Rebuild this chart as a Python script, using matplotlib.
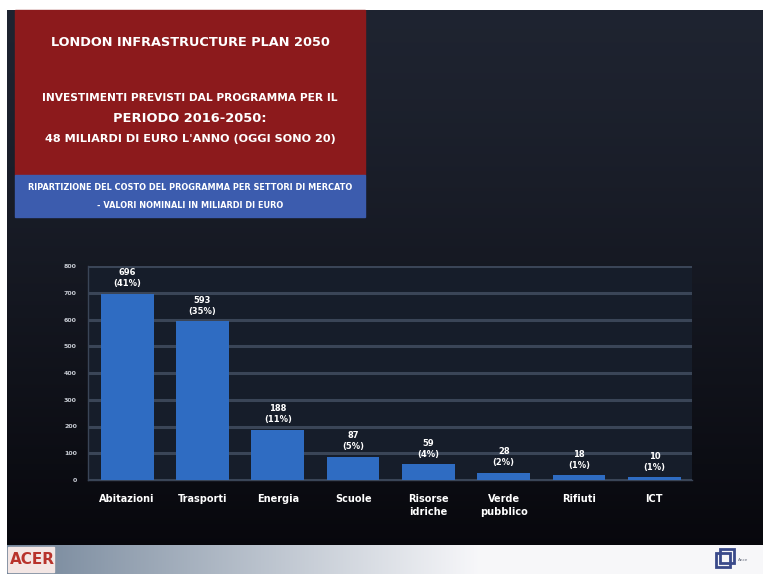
import numpy as np
import matplotlib.pyplot as plt
from matplotlib.patches import Rectangle

# Dati del grafico
settori = ['Abitazioni', 'Trasporti', 'Energia', 'Scuole', 'Risorse\nidriche',
           'Verde\npubblico', 'Rifiuti', 'ICT']
valori = [696, 593, 188, 87, 59, 28, 18, 10]
percentuali = ['41%', '35%', '11%', '5%', '4%', '2%', '1%', '1%']
yticks = [0, 100, 200, 300, 400, 500, 600, 700, 800]

W, H = 763, 574
fig = plt.figure(figsize=(W / 100, H / 100), dpi=100)
fig.patch.set_facecolor('white')

# Sfondo della slide (gradiente scuro)
bg = fig.add_axes([0, 0, 1, 1])
bg.set_xlim(0, W)
bg.set_ylim(H, 0)
bg.axis('off')
grad = np.linspace(0, 1, 256).reshape(-1, 1) ** 1.3
top = np.array([0.12, 0.14, 0.19])
bot = np.array([0.03, 0.03, 0.05])
img = top + (bot - top) * grad[..., None]
bg.imshow(img, extent=[7, W, 545, 10], aspect='auto', zorder=0)

# Piede della slide
foot = np.linspace(0, 1, 256).reshape(1, -1)
c1 = np.array([0.45, 0.52, 0.60])
c2 = np.array([0.97, 0.97, 0.98])
fimg = c1 + (c2 - c1) * np.clip(foot * 1.6, 0, 1)[..., None]
bg.imshow(fimg, extent=[7, W, 574, 545], aspect='auto', zorder=0)
bg.add_patch(Rectangle((8, 547), 46, 25, color='#f3e6e4', zorder=1))
bg.text(10, 560, 'ACER', color='#b8332c', fontsize=11, fontweight='bold',
        va='center', ha='left', family='Liberation Sans Narrow', zorder=2)
bg.add_patch(Rectangle((716, 553), 14, 14, fill=False, ec='#3a4a8a', lw=2, zorder=2))
bg.add_patch(Rectangle((720, 549), 14, 14, fill=False, ec='#3a4a8a', lw=2, zorder=2))
bg.text(738, 560, 'Ance', color='#6a7080', fontsize=3, va='center', zorder=2)

# Riquadri del titolo
bg.add_patch(Rectangle((15, 10), 350, 165, color='#8c1a1c', zorder=1))
bg.add_patch(Rectangle((15, 175), 350, 42, color='#3c5cae', zorder=1))
bg.text(190, 42, 'LONDON INFRASTRUCTURE PLAN 2050', color='white', fontsize=9.3,
        fontweight='bold', ha='center', va='center', zorder=2)
bg.text(190, 98, 'INVESTIMENTI PREVISTI DAL PROGRAMMA PER IL', color='white',
        fontsize=7.7, fontweight='bold', ha='center', va='center', zorder=2)
bg.text(190, 118, 'PERIODO 2016-2050:', color='white',
        fontsize=9.4, fontweight='bold', ha='center', va='center', zorder=2)
bg.text(190, 139, "48 MILIARDI DI EURO L'ANNO (OGGI SONO 20)", color='white',
        fontsize=8.1, fontweight='bold', ha='center', va='center', zorder=2)
bg.text(190, 188, 'RIPARTIZIONE DEL COSTO DEL PROGRAMMA PER SETTORI DI MERCATO',
        color='white', fontsize=5.9, fontweight='bold', ha='center', va='center', zorder=2)
bg.text(190, 205, '- VALORI NOMINALI IN MILIARDI DI EURO',
        color='white', fontsize=5.9, fontweight='bold', ha='center', va='center', zorder=2)

# Grafico a barre
ax = fig.add_axes([88 / W, 1 - 480 / H, (692 - 88) / W, (480 - 266) / H])
ax.set_facecolor('#161d2a')
x = np.arange(len(settori))
ax.bar(x, valori, width=0.7, color='#2f6cc2', zorder=3)
ax.set_xlim(-0.52, 7.5)
ax.set_ylim(0, 800)
ax.set_yticks(yticks)
ax.set_yticklabels([str(t) for t in yticks], fontsize=4.5, color='#c8ccd4',
                   fontweight='bold')
ax.yaxis.grid(True, color='#3a4557', lw=2.2, zorder=0)
ax.set_xticks(x)
ax.set_xticklabels(settori, fontsize=7, color='white', fontweight='bold',
                   linespacing=1.4)
ax.tick_params(axis='x', length=0, pad=10)
ax.tick_params(axis='y', length=0, pad=8)
for s in ['top', 'right']:
    ax.spines[s].set_visible(False)
for s in ['left', 'bottom']:
    ax.spines[s].set_color('#3a4557')
    ax.spines[s].set_linewidth(1)

for xi, v, p in zip(x, valori, percentuali):
    ax.annotate(f'{v}\n({p})', (xi, v), xytext=(0, 4), textcoords='offset points',
                ha='center', va='bottom', fontsize=6, color='white',
                fontweight='bold', linespacing=1.3, zorder=4)

fig.savefig('out.png', dpi=100)
